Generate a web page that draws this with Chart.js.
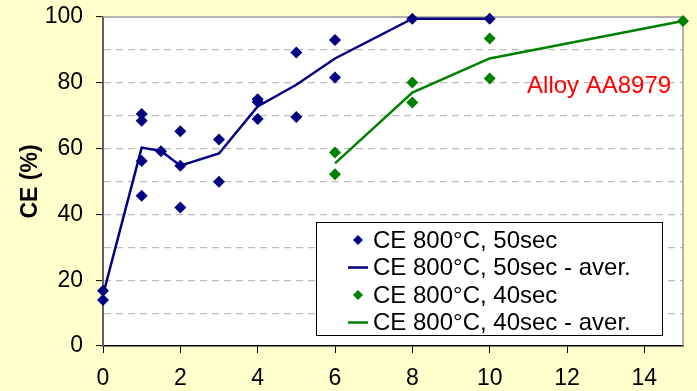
<!DOCTYPE html>
<html>
<head>
<meta charset="utf-8">
<script src="https://cdn.jsdelivr.net/npm/chart.js@4/dist/chart.umd.min.js"></script>
<style>
  html, body { margin: 0; padding: 0; background: #FFFFCC; }
  canvas { display: block; }
</style>
</head>
<body>
<canvas id="c" width="697" height="391"></canvas>
<script>
// ---- data ----
const ptsX50 = [0, 0, 1, 1, 1, 1, 1.5, 2, 2, 2, 3, 3, 4, 4, 4, 5, 5, 6, 6, 8, 10];
const ptsY50 = [16.8, 14, 70.5, 68.5, 56.2, 45.7, 59.2, 65.3, 54.8, 42.1, 62.8, 49.9, 75, 74.2, 69, 89.2, 69.6, 93, 81.6, 99.5, 99.5];
const avgX50 = [0, 1, 1.5, 2, 3, 4, 5, 6, 8, 10];
const avgY50 = [15.5, 60.3, 59.3, 54.8, 58.5, 72.8, 79.4, 87.4, 99.5, 99.5];
const ptsX40 = [6, 6, 8, 8, 10, 10, 15];
const ptsY40 = [58.8, 52.2, 80.1, 74, 93.5, 81.3, 98.8];
const avgX40 = [6, 8, 10, 15];
const avgY40 = [55.5, 77, 87.4, 98.8];
const seriesLabels = ['CE 800°C, 50sec', 'CE 800°C, 50sec - aver.', 'CE 800°C, 40sec', 'CE 800°C, 40sec - aver.'];
const xTickValues = [0, 2, 4, 6, 8, 10, 12, 14];
const yTickValues = [0, 10, 20, 30, 40, 50, 60, 70, 80, 90, 100];
const yTitle = 'CE (%)';
const noteText = 'Alloy AA8979';
const noteX = 12.83, noteY = 76.9;

const FONT = "'Liberation Sans', Arial, sans-serif";
const NAVY = '#000080', GREEN = '#008000';

const toXY = (xs, ys) => xs.map((x, i) => ({ x: x, y: ys[i] }));

const bgPlugin = {
  id: 'bg',
  beforeDraw(chart) {
    const { ctx, chartArea: a } = chart;
    ctx.save();
    ctx.fillStyle = '#FFFFCC';
    ctx.fillRect(0, 0, chart.width, chart.height);
    ctx.fillStyle = '#FFFFFF';
    ctx.fillRect(a.left, a.top, a.right - a.left, a.bottom - a.top);
    ctx.restore();
  },
  beforeDatasetsDraw(chart) {
    const { ctx, chartArea: a } = chart;
    ctx.save();
    ctx.strokeStyle = '#9A9A9A';
    ctx.lineWidth = 1.5;
    ctx.beginPath();
    ctx.moveTo(a.left, a.top);
    ctx.lineTo(a.right, a.top);
    ctx.lineTo(a.right, a.bottom);
    ctx.stroke();
    ctx.restore();
  }
};

const notePlugin = {
  id: 'note',
  afterDatasetsDraw(chart) {
    const { ctx, scales } = chart;
    ctx.save();
    ctx.font = '24px ' + FONT;
    ctx.fillStyle = '#FF0000';
    ctx.textAlign = 'center';
    ctx.textBaseline = 'alphabetic';
    ctx.fillText(noteText, scales.x.getPixelForValue(noteX), scales.y.getPixelForValue(noteY));
    ctx.restore();
  }
};

const legendPlugin = {
  id: 'boxLegend',
  afterDraw(chart) {
    const { ctx } = chart;
    const bx = 316, by = 222, bw = 346, bh = 113;
    ctx.save();
    ctx.fillStyle = '#FFFFFF';
    ctx.fillRect(bx, by, bw, bh);
    ctx.strokeStyle = '#000000';
    ctx.lineWidth = 1;
    ctx.strokeRect(bx + 0.5, by + 0.5, bw, bh);
    ctx.font = '24px ' + FONT;
    ctx.textBaseline = 'middle';
    ctx.textAlign = 'left';
    chart.data.datasets.forEach((ds, i) => {
      const cy = by + 18 + i * 27.5;
      const col = ds.borderColor;
      if (ds.showLine === false) {
        ctx.fillStyle = col;
        const r = 5;
        ctx.beginPath();
        ctx.moveTo(358, cy - r); ctx.lineTo(358 + r, cy); ctx.lineTo(358, cy + r); ctx.lineTo(358 - r, cy);
        ctx.closePath();
        ctx.fill();
      } else {
        ctx.strokeStyle = col;
        ctx.lineWidth = 2.5;
        ctx.beginPath();
        ctx.moveTo(348, cy); ctx.lineTo(368, cy);
        ctx.stroke();
      }
      ctx.fillStyle = '#000000';
      ctx.fillText(ds.label, 373, cy + 1);
    });
    ctx.restore();
  }
};

new Chart(document.getElementById('c'), {
  type: 'scatter',
  data: {
    datasets: [
      { label: seriesLabels[0], data: toXY(ptsX50, ptsY50), showLine: false, pointStyle: 'rectRot', pointRadius: 6, pointHoverRadius: 6, backgroundColor: NAVY, borderColor: NAVY, borderWidth: 0, clip: false },
      { label: seriesLabels[1], data: toXY(avgX50, avgY50), showLine: true, pointRadius: 0, borderColor: NAVY, backgroundColor: NAVY, borderWidth: 2.5, tension: 0, clip: false },
      { label: seriesLabels[2], data: toXY(ptsX40, ptsY40), showLine: false, pointStyle: 'rectRot', pointRadius: 6, pointHoverRadius: 6, backgroundColor: GREEN, borderColor: GREEN, borderWidth: 0, clip: false },
      { label: seriesLabels[3], data: toXY(avgX40, avgY40), showLine: true, pointRadius: 0, borderColor: GREEN, backgroundColor: GREEN, borderWidth: 2.5, tension: 0, clip: false }
    ]
  },
  options: {
    responsive: false,
    animation: false,
    events: [],
    layout: { padding: { left: 0, right: 14, top: 17, bottom: 0 } },
    plugins: { legend: { display: false }, tooltip: { enabled: false } },
    scales: {
      x: {
        type: 'linear', min: 0, max: 15,
        afterBuildTicks: s => { s.ticks = xTickValues.map(v => ({ value: v })); },
        afterFit: s => { s.height = 45; s.paddingLeft = 0; s.paddingRight = 0; },
        grid: { drawOnChartArea: false, drawTicks: true, tickLength: 7, tickColor: '#000000', tickWidth: 1 },
        border: { color: '#000000', width: 1.5 },
        ticks: { font: { family: FONT, size: 23 }, color: '#000000', padding: 12, maxRotation: 0 }
      },
      y: {
        min: 0, max: 100,
        afterBuildTicks: s => { s.ticks = yTickValues.map(v => ({ value: v })); },
        afterFit: s => { s.width = 103; s.paddingTop = 0; s.paddingBottom = 0; },
        grid: {
          color: c => (c.tick && (c.tick.value === 0 || c.tick.value === 100)) ? 'rgba(0,0,0,0)' : '#BDBDBD',
          lineWidth: 1.2,
          tickLength: 7,
          tickWidth: 1,
          tickBorderDash: [],
          tickColor: c => (c.tick && c.tick.value % 20 === 0) ? '#000000' : 'rgba(0,0,0,0)'
        },
        border: { color: '#606060', width: 2, dash: [7, 5] },
        ticks: {
          font: { family: FONT, size: 23 }, color: '#000000', padding: 13,
          callback: v => (v % 20 === 0 ? String(v) : '')
        },
        title: { display: true, text: yTitle, font: { family: FONT, size: 23, weight: 'bold' }, color: '#000000', padding: { top: 17, bottom: 0 } }
      }
    }
  },
  plugins: [bgPlugin, notePlugin, legendPlugin]
});
</script>
</body>
</html>
